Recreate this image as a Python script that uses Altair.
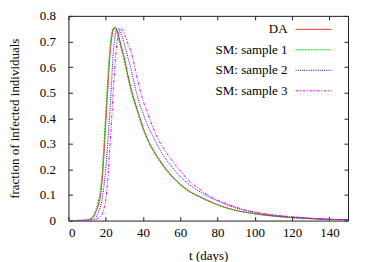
import altair as alt
import pandas as pd

series_names = ["DA", "SM: sample 1", "SM: sample 2", "SM: sample 3"]
colors = ["#ff0000", "#00d000", "#0000ff", "#ff00ff"]
dashes = [[1, 0], [2, 1], [1, 1.2], [3, 1.5, 1, 1.5]]

t_da = [0, 10, 12, 14, 15, 16, 17, 18, 19, 20, 21, 22, 23, 24, 25, 26, 27, 28, 30, 32, 34, 36, 38, 40, 43, 46, 50, 54, 58, 62, 66, 70, 75, 80, 90, 100, 110, 120, 130, 140, 150]
v_da = [0, 0.001, 0.006, 0.022, 0.04, 0.06, 0.09, 0.15, 0.25, 0.38, 0.50, 0.62, 0.70, 0.745, 0.755, 0.745, 0.72, 0.69, 0.635, 0.565, 0.505, 0.455, 0.41, 0.365, 0.31, 0.27, 0.225, 0.187, 0.155, 0.13, 0.11, 0.095, 0.078, 0.062, 0.04, 0.027, 0.018, 0.012, 0.008, 0.005, 0.003]

t_sm1 = [0, 10, 12, 14, 15, 16, 17, 18, 19, 20, 21, 22, 23, 24, 25, 26, 27, 28, 30, 32, 34, 36, 38, 40, 43, 46, 50, 54, 58, 62, 66, 70, 75, 80, 90, 100, 110, 120, 130, 140, 150]
v_sm1 = [0, 0.002, 0.008, 0.028, 0.048, 0.075, 0.11, 0.18, 0.29, 0.42, 0.54, 0.65, 0.72, 0.752, 0.75, 0.735, 0.71, 0.68, 0.62, 0.555, 0.495, 0.447, 0.402, 0.358, 0.305, 0.265, 0.22, 0.183, 0.152, 0.127, 0.108, 0.093, 0.076, 0.061, 0.039, 0.026, 0.017, 0.011, 0.007, 0.004, 0.002]

t_sm2 = [0, 12, 14, 16, 17, 18, 19, 20, 21, 22, 23, 24, 25, 26, 27, 28, 29, 30, 32, 34, 36, 38, 40, 42, 45, 50, 55, 60, 65, 70, 75, 80, 90, 100, 110, 120, 130, 140, 150]
v_sm2 = [0, 0.002, 0.008, 0.03, 0.05, 0.08, 0.13, 0.2, 0.29, 0.40, 0.52, 0.65, 0.72, 0.748, 0.75, 0.735, 0.715, 0.69, 0.635, 0.58, 0.515, 0.46, 0.42, 0.38, 0.335, 0.265, 0.215, 0.172, 0.14, 0.115, 0.094, 0.077, 0.049, 0.032, 0.021, 0.014, 0.009, 0.005, 0.003]

t_sm3 = [0, 14, 16, 18, 19, 20, 21, 22, 23, 24, 25, 26, 27, 28, 29, 30, 32, 34, 36, 38, 40, 42, 44, 48, 52, 56, 60, 64, 70, 76, 80, 90, 100, 110, 120, 130, 140, 150]
v_sm3 = [0, 0.002, 0.01, 0.025, 0.045, 0.08, 0.15, 0.26, 0.37, 0.50, 0.61, 0.69, 0.735, 0.75, 0.745, 0.73, 0.69, 0.65, 0.585, 0.523, 0.47, 0.43, 0.39, 0.32, 0.272, 0.23, 0.195, 0.16, 0.125, 0.094, 0.08, 0.052, 0.033, 0.022, 0.015, 0.009, 0.005, 0.003]

x_ticks = [0, 20, 40, 60, 80, 100, 120, 140]
y_ticks = [0, 0.1, 0.2, 0.3, 0.4, 0.5, 0.6, 0.7, 0.8]

W, H = 280, 205
FONT = "Liberation Serif, Times New Roman, DejaVu Serif, serif"
FS = 13

ts = [t_da, t_sm1, t_sm2, t_sm3]
vs = [v_da, v_sm1, v_sm2, v_sm3]

xscale = alt.Scale(domain=[0, 150], nice=False, zero=False)
yscale = alt.Scale(domain=[0, 0.8], nice=False)

common = dict(grid=False, domain=False, labelFont=FONT, labelFontSize=FS, labelColor="black",
              titleFont=FONT, titleFontSize=FS, titleColor="black", titleFontWeight="normal",
              tickColor="#222", tickWidth=1)

x_axes = [
    alt.Axis(orient="bottom", values=x_ticks, ticks=False, tickSize=0, labelPadding=6,
             title="t (days)", titleY=39, titleBaseline="alphabetic", **common),
    alt.Axis(orient="top", offset=-H, values=x_ticks, labels=False, ticks=True, tickSize=4,
             title=None, **common),
    alt.Axis(orient="bottom", offset=-H, values=x_ticks, labels=False, ticks=True, tickSize=4,
             title=None, **common),
    None,
]
y_axes = [
    alt.Axis(orient="left", values=y_ticks, format=".1~f", ticks=False, tickSize=0, labelPadding=13,
             title="fraction of infected individuals", titleX=-54, titleY=H / 2,
             titleAngle=270, titleAlign="center", titleBaseline="middle", **common),
    alt.Axis(orient="right", offset=-W, values=y_ticks, labels=False, ticks=True, tickSize=4,
             title=None, **common),
    alt.Axis(orient="left", offset=-W, values=y_ticks, labels=False, ticks=True, tickSize=4,
             title=None, **common),
    None,
]

layers = []
for i, name in enumerate(series_names):
    df = pd.DataFrame({"t": ts[i], "v": vs[i], "series": name})
    layers.append(
        alt.Chart(df).mark_line(color=colors[i], strokeWidth=1, strokeDash=dashes[i],
                                interpolate="monotone", clip=True).encode(
            x=alt.X("t:Q", scale=xscale, axis=x_axes[i]),
            y=alt.Y("v:Q", scale=yscale, axis=y_axes[i]),
        )
    )

leg_y = [13.5, 34, 54.5, 75]
for i, name in enumerate(series_names):
    ld = pd.DataFrame({"label": [name]})
    layers.append(
        alt.Chart(ld).mark_text(align="right", baseline="middle", font=FONT, fontSize=FS, color="black").encode(
            text="label:N", x=alt.value(219.5), y=alt.value(leg_y[i])
        )
    )
    layers.append(
        alt.Chart(ld).mark_rule(color=colors[i], strokeWidth=1, strokeDash=dashes[i]).encode(
            x=alt.value(227.5), x2=alt.value(263.5), y=alt.value(leg_y[i])
        )
    )

chart = alt.layer(*layers).resolve_axis(x="independent", y="independent").properties(
    width=W, height=H,
    padding={"left": 60.5, "top": 7.7, "right": 15, "bottom": 43},
    autosize=alt.AutoSizeParams(type="none"),
).configure_view(stroke="#222", strokeWidth=1)

chart.save("out.html", embed_options={"renderer": "svg", "actions": False})
